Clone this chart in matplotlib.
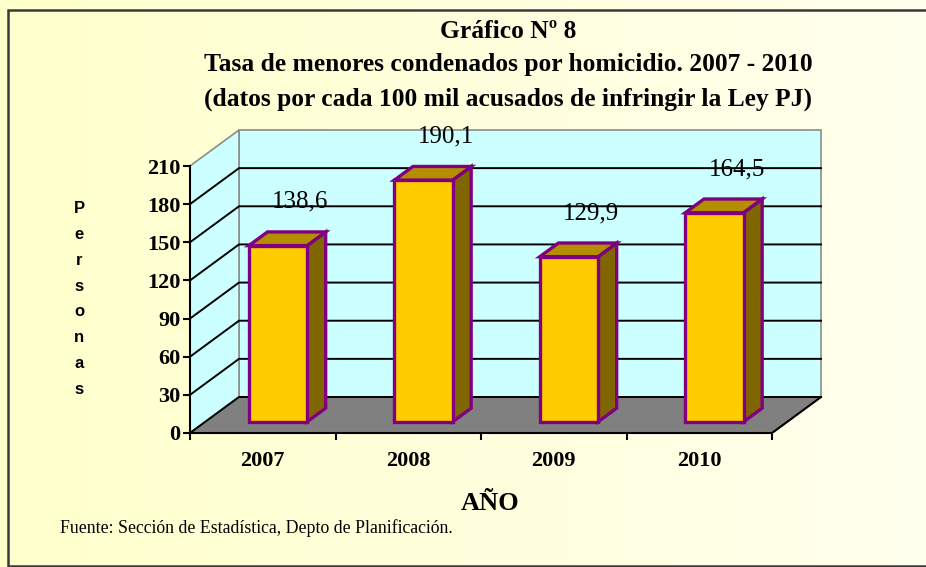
import numpy as np
import matplotlib
matplotlib.use('Agg')
import matplotlib.pyplot as plt
from matplotlib.patches import Polygon

# data
years = ['2007', '2008', '2009', '2010']
rates = [138.6, 190.1, 129.9, 164.5]
rate_labels = ['138,6', '190,1', '129,9', '164,5']
y_ticks = [0, 30, 60, 90, 120, 150, 180, 210]

title_lines = ['Gráfico Nº 8',
               'Tasa de menores condenados por homicidio. 2007 - 2010',
               '(datos por cada 100 mil acusados de infringir la Ley PJ)']
source = 'Fuente: Sección de Estadística, Depto de Planificación.'

W, H = 926, 567
fig = plt.figure(figsize=(W / 100, H / 100), dpi=100)

# background gradient (pale yellow -> almost white)
bg = fig.add_axes([0, 0, 1, 1], zorder=-10)
grad = np.linspace(0, 1, 256)[None, :, None]
left_c = np.array([255, 255, 204]) / 255
right_c = np.array([255, 255, 238]) / 255
bg.imshow(left_c + (right_c - left_c) * grad, aspect='auto', extent=[0, 1, 0, 1])
bg.set_xlim(0, 1)
bg.set_ylim(0, 1)
bg.axis('off')
# frame: left, top and bottom edges only (right edge is cut off in the original)
bx0, by0, by1 = 8 / W, 1 - 566 / H, 1 - 10 / H
bg.plot([1, bx0, bx0, 1], [by1, by1, by0, by0], color='#3a3a3a', lw=1.8,
        solid_joinstyle='miter')

# plot area, pixel geometry of the front plane
px_x, px_y = 145.5, 267 / 210
x0, y0 = 190, 433           # pixel of (-0.5, 0)
aw, ah = 640, 313
ax = fig.add_axes([x0 / W, (H - y0) / H, aw / W, ah / H])
ax.set_xlim(-0.5, -0.5 + aw / px_x)
ax.set_ylim(0, ah / px_y)
ax.patch.set_visible(False)

dx, dy = 49 / px_x, 36 / px_y    # depth of the chart box
n = len(years)
xl, xr, top = -0.5, n - 0.5, y_ticks[-1]

wall_c = '#ccffff'
edge_gray = '#8c8c8c'
# back wall
ax.add_patch(Polygon([(xl + dx, dy), (xr + dx, dy), (xr + dx, top + dy), (xl + dx, top + dy)],
                     closed=True, facecolor=wall_c, edgecolor=edge_gray, lw=1.2, zorder=1))
# side wall
ax.add_patch(Polygon([(xl, 0), (xl + dx, dy), (xl + dx, top + dy), (xl, top)],
                     closed=True, facecolor=wall_c, edgecolor=edge_gray, lw=1.2, zorder=1))
# floor
ax.add_patch(Polygon([(xl, 0), (xr, 0), (xr + dx, dy), (xl + dx, dy)],
                     closed=True, facecolor='#808080', edgecolor=edge_gray, lw=1.2, zorder=1))
ax.plot([xr, xr + dx], [0, dy], color='black', lw=1.5, zorder=2)

# gridlines on side and back walls
for v in y_ticks[:-1]:
    ax.plot([xl, xl + dx, xr + dx], [v, v + dy, v + dy], color='black', lw=1.4, zorder=2,
            solid_joinstyle='miter')

# bars
f0, f1 = 0.31, 0.69
half = 0.2
bar_front, bar_side, bar_top, bar_edge = '#ffcc00', '#806600', '#b38f00', '#800080'
for i, v in enumerate(rates):
    ox0, oy0 = f0 * dx, f0 * dy
    ox1, oy1 = f1 * dx, f1 * dy
    l, r = i - half, i + half
    side = [(r + ox0, oy0), (r + ox1, oy1), (r + ox1, v + oy1), (r + ox0, v + oy0)]
    topf = [(l + ox0, v + oy0), (r + ox0, v + oy0), (r + ox1, v + oy1), (l + ox1, v + oy1)]
    front = [(l + ox0, oy0), (r + ox0, oy0), (r + ox0, v + oy0), (l + ox0, v + oy0)]
    for pts, fc in [(side, bar_side), (topf, bar_top), (front, bar_front)]:
        ax.add_patch(Polygon(pts, closed=True, facecolor=fc, edgecolor=bar_edge, lw=2.4,
                             joinstyle='miter', zorder=3))
    ax.text(i + 0.5 * dx + 0.09, v + 0.5 * dy + 29, rate_labels[i], ha='center', va='center',
            fontsize=18, family='Liberation Serif', zorder=4)

# front axes
for s in ['top', 'right']:
    ax.spines[s].set_visible(False)
ax.spines['left'].set_bounds(0, top)
ax.spines['bottom'].set_bounds(xl, xr)
for s in ['left', 'bottom']:
    ax.spines[s].set_linewidth(1.5)
    ax.spines[s].set_zorder(5)
ax.set_yticks(y_ticks)
ax.set_yticklabels([str(t) for t in y_ticks], fontsize=16, fontweight='bold', family='Liberation Serif')
ax.tick_params(axis='y', direction='out', length=5, width=1.5, pad=2)
ax.set_xticks(np.arange(n + 1) - 0.5)
ax.set_xticklabels([])
ax.set_xticks(np.arange(n), minor=True)
ax.set_xticklabels(years, minor=True, fontsize=16, fontweight='bold', family='Liberation Serif')
ax.tick_params(axis='x', which='major', direction='out', length=5, width=1.5)
ax.tick_params(axis='x', which='minor', length=0, pad=13)

# titles and labels
for k, yc in enumerate([32, 65, 99]):
    fig.text(508 / W, 1 - yc / H, title_lines[k], ha='center', va='center', fontsize=18.4,
             fontweight='bold', family='Liberation Serif')
fig.text(79 / W, 1 - 299 / H, '\n'.join('Personas'), ha='center', va='center', fontsize=12,
         fontweight='bold', family='Liberation Sans', linespacing=1.9)
fig.text(490 / W, 1 - 503 / H, 'AÑO', ha='center', va='center', fontsize=19,
         fontweight='bold', family='Liberation Serif')
fig.text(60 / W, 1 - 528 / H, source, ha='left', va='center', fontsize=12.8,
         family='Liberation Serif')

fig.savefig('out.png', dpi=100)
